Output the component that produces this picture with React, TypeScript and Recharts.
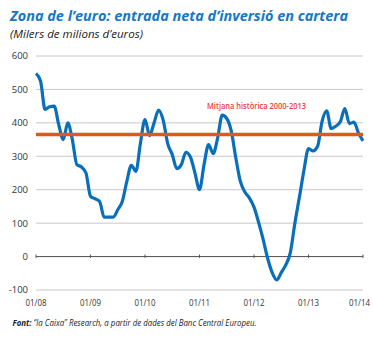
import React from "react";
import { LineChart, Line, XAxis, YAxis, CartesianGrid, ReferenceLine } from "recharts";

// Monthly net portfolio investment inflows, Jan 2008 – Jan 2014 (EUR bn)
const netInflow: number[] = [
  548, 525, 440, 448, 450, 395, 350, 400, 350, 275, 268, 250,
  180, 173, 165, 118, 118, 118, 140, 165, 225, 273, 255, 340,
  410, 362, 400, 438, 408, 338, 305, 263, 275, 312, 298, 250,
  200, 275, 335, 308, 355, 423, 413, 375, 295, 225, 193, 175,
  148, 103, 52, -5, -48, -70, -48, -25, 12, 100, 178, 258,
  323, 316, 330, 405, 436, 383, 390, 403, 443, 398, 402, 370,
  346,
];
const historicalMean = 365;
const tickPositions: number[] = [0, 12, 24, 36, 48, 60, 72];
const tickLabels: string[] = ["01/08", "01/09", "01/10", "01/11", "01/12", "01/13", "01/14"];
const yTicks: number[] = [-100, 0, 100, 200, 300, 400, 500, 600];

const data = netInflow.map((v, i) => ({ m: i, v }));

const XTick = (props: any) => {
  const { x, y, payload } = props;
  const label = tickLabels[Math.round(payload.value / 12)];
  const w = 21;
  const cx = Math.min(x, 359.5);
  return (
    <text
      x={cx - w / 2}
      y={y}
      dy="0.71em"
      fontSize={8.7}
      fill="#333"
      fontFamily="'Open Sans', sans-serif"
      textLength={w}
      lengthAdjust="spacingAndGlyphs"
    >
      {label}
    </text>
  );
};

export default function App() {
  return (
    <div style={{ position: "absolute", left: 0, top: 0, width: 373, height: 338, background: "#fff" }}>
      <div style={{ position: "absolute", left: 0, top: 0 }}>
        <LineChart
          width={373}
          height={338}
          data={data}
          margin={{ top: 56, right: 10, bottom: 28, left: 0 }}
          style={{ fontFamily: "'Open Sans', sans-serif" }}
        >
          <CartesianGrid vertical={false} stroke="#c8c8c8" strokeWidth={1} />
          <XAxis
            type="number"
            dataKey="m"
            domain={[0, 72]}
            ticks={tickPositions}
            axisLine={false}
            tickLine={false}
            tickMargin={4}
            height={20}
            tick={<XTick />}
          />
          <YAxis
            domain={[-100, 600]}
            ticks={yTicks}
            width={36}
            axisLine={false}
            tickLine={false}
            tick={{ fontSize: 9.5, fill: "#333" }}
          />
          <ReferenceLine y={0} stroke="#555" strokeWidth={1} />
          {tickPositions.map((p) => (
            <ReferenceLine
              key={p}
              segment={[{ x: p, y: -4 }, { x: p, y: 6 }]}
              stroke="#555"
              strokeWidth={1}
            />
          ))}
          <Line
            type="monotone"
            dataKey="v"
            stroke="#0a6fba"
            strokeWidth={3.2}
            dot={false}
            isAnimationActive={false}
          />
          <ReferenceLine y={historicalMean} stroke="#e4561d" strokeWidth={3.5} />
        </LineChart>
      </div>
      <svg
        width={373}
        height={338}
        style={{ position: "absolute", left: 0, top: 0, pointerEvents: "none" }}
      >
        <text
          x={10}
          y={21}
          fontFamily="'Open Sans', sans-serif"
          fontWeight={700}
          fontStyle="italic"
          fontSize={13.5}
          fill="#1677c4"
          textLength={338}
          lengthAdjust="spacingAndGlyphs"
        >
          Zona de l’euro: entrada neta d’inversió en cartera
        </text>
        <text
          x={10}
          y={37.5}
          fontFamily="'Open Sans', sans-serif"
          fontStyle="italic"
          fontSize={10}
          fill="#222"
          textLength={133}
          lengthAdjust="spacingAndGlyphs"
        >
          (Milers de milions d’euros)
        </text>
        <text
          x={207}
          y={108.5}
          fontFamily="'Open Sans', sans-serif"
          fontWeight={600}
          fontSize={8}
          fill="#e8413c"
          textLength={99}
          lengthAdjust="spacingAndGlyphs"
        >
          Mitjana històrica 2000-2013
        </text>
        <text
          x={12.5}
          y={326}
          fontFamily="'Open Sans', sans-serif"
          fontStyle="italic"
          fontSize={8.5}
          fill="#222"
          textLength={244}
          lengthAdjust="spacingAndGlyphs"
        >
          <tspan fontWeight={700}>Font:</tspan> “la Caixa” Research, a partir de dades del Banc Central Europeu.
        </text>
      </svg>
    </div>
  );
}
